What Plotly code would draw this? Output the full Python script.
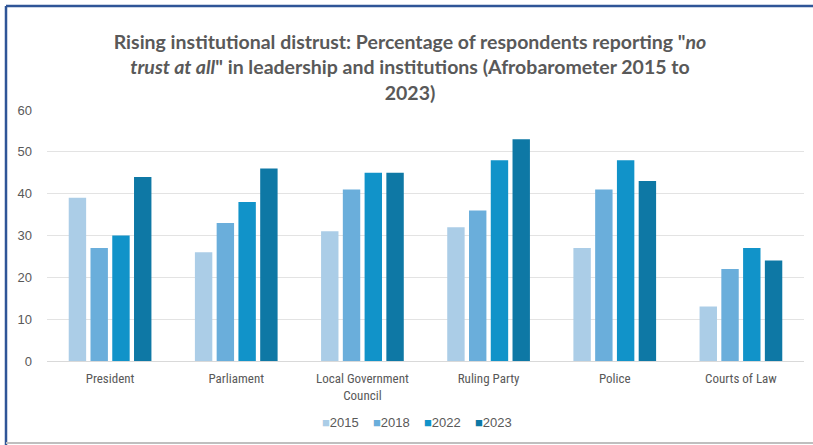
import plotly.graph_objects as go

categories = ["President", "Parliament", "Local Government<br>Council", "Ruling Party", "Police", "Courts of Law"]
years = ["2015", "2018", "2022", "2023"]
v2015 = [39, 26, 31, 32, 27, 13]
v2018 = [27, 33, 41, 36, 41, 22]
v2022 = [30, 38, 45, 48, 48, 27]
v2023 = [44, 46, 45, 53, 43, 24]
series = [v2015, v2018, v2022, v2023]
colors = ["#ABCDE7", "#6AAEDB", "#1193C9", "#0E78A5"]

W, H = 813, 445
L, R, T, B = 47, 9, 110, 84

fig = go.Figure()
for y, vals, c in zip(years, series, colors):
    fig.add_trace(go.Bar(name=y, x=categories, y=vals, marker=dict(color=c, line=dict(width=0)),
                         showlegend=False))

pw = W - L - R
ph = H - T - B
def px(x):
    return (x - L) / pw
def py(y):
    return (H - B - y) / ph

shapes = [
    dict(type="line", xref="paper", yref="paper", x0=px(6), x1=px(815), y0=py(6), y1=py(6),
         line=dict(color="#2F5597", width=2.5)),
    dict(type="line", xref="paper", yref="paper", x0=px(6), x1=px(6), y0=py(6), y1=py(445),
         line=dict(color="#2F5597", width=2.5)),
    dict(type="line", xref="paper", yref="paper", x0=px(6), x1=px(815), y0=py(443), y1=py(443),
         line=dict(color="#BFBFBF", width=2)),
]

# legend drawn as annotations (one per series)
legend_x = [321, 372, 423, 474]
annotations = []
for y, c, lx in zip(years, colors, legend_x):
    annotations.append(dict(
        text=f'<span style="color:{c}">■</span>{y}', xref="paper", yref="paper",
        x=px(lx - 1), y=py(422), xanchor="left", yanchor="middle", showarrow=False,
        font=dict(family="Liberation Sans", size=13, color="#595959"),
    ))

fig.update_layout(
    width=W, height=H,
    margin=dict(l=L, r=R, t=T, b=B, autoexpand=False),
    paper_bgcolor="white", plot_bgcolor="white",
    barmode="group", bargap=0.31, bargroupgap=0.2,
    title=dict(
        text="Rising institutional distrust: Percentage of respondents reporting \"<i>no</i><br><i>trust at all</i>\" in leadership and institutions (Afrobarometer 2015 to<br>2023)",
        x=410 / W, xanchor="center", xref="container", y=1 - 49 / H, yanchor="top", yref="container",
        font=dict(family="Lato", size=19.5, color="#595959", weight="bold"),
    ),
    font=dict(family="Liberation Sans", color="#595959"),
    xaxis=dict(showgrid=False, showline=True, linecolor="#D9D9D9", ticks="", automargin=False,
               ticklabelstandoff=5,
               tickfont=dict(family="Liberation Sans Narrow, Roboto Condensed, Liberation Sans", size=13, color="#595959")),
    yaxis=dict(range=[0, 60], dtick=10, showgrid=True, gridcolor="#E3E3E3", gridwidth=1,
               zeroline=False, showline=False, ticks="", ticklabelstandoff=14, automargin=False,
               tickfont=dict(family="Liberation Sans", size=13, color="#595959")),
    shapes=shapes,
    annotations=annotations,
    showlegend=False,
)

fig.write_html("out.html", config={"displayModeBar": False},
               post_script="document.body.style.margin='0';document.body.style.overflow='hidden';")
